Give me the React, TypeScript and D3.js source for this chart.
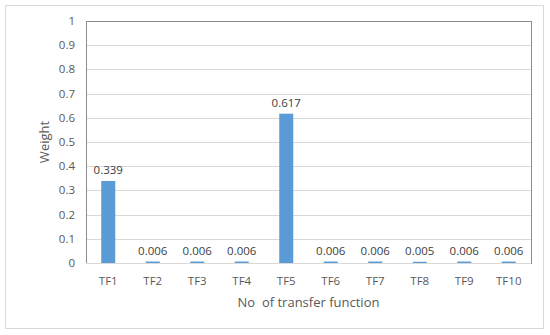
import React, { useEffect, useRef } from "react";
import * as d3 from "d3";

const categories = ["TF1", "TF2", "TF3", "TF4", "TF5", "TF6", "TF7", "TF8", "TF9", "TF10"];
const weights = [0.339, 0.006, 0.006, 0.006, 0.617, 0.006, 0.006, 0.005, 0.006, 0.006];
const yTicks = [0, 0.1, 0.2, 0.3, 0.4, 0.5, 0.6, 0.7, 0.8, 0.9, 1];

const width = 550,
  height = 335,
  margin = { top: 21, right: 19, bottom: 72, left: 86 };

const font = "'Open Sans', sans-serif";

const App = () => {
  const ref = useRef<SVGSVGElement>(null);

  useEffect(() => {
    const svg = d3.select(ref.current);
    svg.selectAll("*").remove();

    const x = d3
      .scaleBand()
      .domain(categories)
      .range([margin.left, width - margin.right])
      .paddingInner(0.685)
      .paddingOuter(0.3425);
    const y = d3
      .scaleLinear()
      .domain([0, 1])
      .range([height - margin.bottom, margin.top]);

    // outer frame
    svg
      .append("rect")
      .attr("x", 5.5)
      .attr("y", 5.5)
      .attr("width", 538)
      .attr("height", 323)
      .attr("fill", "#fff")
      .attr("stroke", "#d9d9d9");

    // grid lines
    svg
      .append("g")
      .selectAll("line")
      .data(yTicks.slice(1))
      .enter()
      .append("line")
      .attr("x1", margin.left)
      .attr("x2", width - margin.right)
      .attr("y1", d => Math.round(y(d)) + 0.5)
      .attr("y2", d => Math.round(y(d)) + 0.5)
      .attr("stroke", "#d9d9d9");

    // plot border
    svg
      .append("rect")
      .attr("x", margin.left + 0.5)
      .attr("y", Math.round(y(1)) + 0.5)
      .attr("width", width - margin.right - margin.left)
      .attr("height", Math.round(y(0)) - Math.round(y(1)))
      .attr("fill", "none")
      .attr("stroke", "#8c8c8c");

    // bars
    svg
      .append("g")
      .selectAll("rect")
      .data(weights)
      .enter()
      .append("rect")
      .attr("x", (d, i) => x(categories[i]))
      .attr("width", x.bandwidth())
      .attr("y", d => y(d))
      .attr("height", d => y(0) - y(d))
      .attr("fill", "#5b9bd5");

    // axis line at 0
    svg
      .append("line")
      .attr("x1", margin.left)
      .attr("x2", width - margin.right)
      .attr("y1", Math.round(y(0)) + 0.5)
      .attr("y2", Math.round(y(0)) + 0.5)
      .attr("stroke", "#d9d9d9");

    // data labels
    svg
      .append("g")
      .selectAll("text")
      .data(weights)
      .enter()
      .append("text")
      .attr("x", (d, i) => x(categories[i]) + x.bandwidth() / 2)
      .attr("y", d => y(d) - 7)
      .attr("text-anchor", "middle")
      .attr("font-family", font)
      .attr("font-size", 11.5)
      .attr("fill", "#404040")
      .text(d => d.toFixed(3));

    // y tick labels
    svg
      .append("g")
      .selectAll("text")
      .data(yTicks)
      .enter()
      .append("text")
      .attr("x", 75)
      .attr("y", d => y(d))
      .attr("dy", "0.35em")
      .attr("text-anchor", "end")
      .attr("font-family", font)
      .attr("font-size", 11.5)
      .attr("fill", "#595959")
      .text(d => String(d));

    // x tick labels
    svg
      .append("g")
      .selectAll("text")
      .data(categories)
      .enter()
      .append("text")
      .attr("x", d => x(d) + x.bandwidth() / 2)
      .attr("y", y(0) + 18)
      .attr("dy", "0.35em")
      .attr("text-anchor", "middle")
      .attr("font-family", font)
      .attr("font-size", 11.5)
      .attr("fill", "#595959")
      .text(d => d);

    // axis titles
    svg
      .append("text")
      .attr("x", (margin.left + width - margin.right) / 2)
      .attr("y", 302)
      .attr("dy", "0.35em")
      .attr("text-anchor", "middle")
      .attr("font-family", font)
      .attr("font-size", 13)
      .attr("fill", "#595959")
      .style("white-space", "pre")
      .text("No  of transfer function");

    svg
      .append("text")
      .attr("transform", "translate(44," + (margin.top + height - margin.bottom) / 2 + ") rotate(-90)")
      .attr("dy", "0.35em")
      .attr("text-anchor", "middle")
      .attr("font-family", font)
      .attr("font-size", 13)
      .attr("fill", "#595959")
      .text("Weight");
  }, []);

  return (
    <div style={{ position: "absolute", left: 0, top: 0 }}>
      <svg ref={ref} width={width} height={height}></svg>
    </div>
  );
};

export default App;
